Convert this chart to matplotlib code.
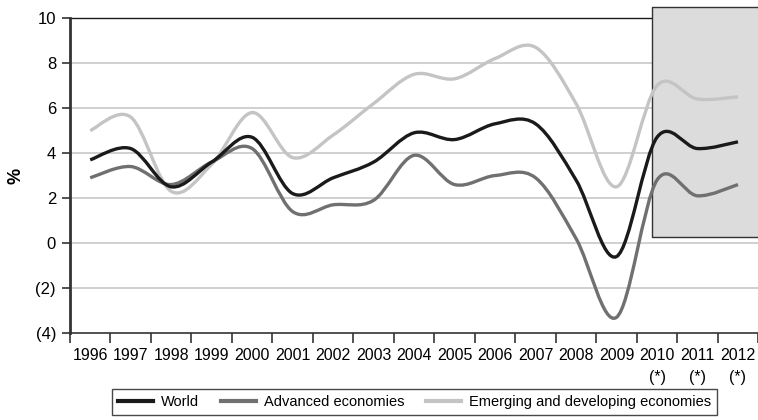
import matplotlib
matplotlib.use("Agg")
import matplotlib.pyplot as plt
from matplotlib.path import Path
from matplotlib.patches import PathPatch, Rectangle
from matplotlib.lines import Line2D
import numpy as np

plt.rcParams['font.family'] = ['Liberation Sans', 'DejaVu Sans']

years = ['1996', '1997', '1998', '1999', '2000', '2001', '2002', '2003', '2004',
         '2005', '2006', '2007', '2008', '2009', '2010\n(*)', '2011\n(*)', '2012\n(*)']
world = [3.7, 4.2, 2.5, 3.6, 4.7, 2.2, 2.9, 3.6, 4.9, 4.6, 5.3, 5.3, 2.8, -0.6, 4.7, 4.2, 4.5]
advanced = [2.9, 3.4, 2.6, 3.6, 4.2, 1.4, 1.7, 1.9, 3.9, 2.6, 3.0, 2.9, 0.2, -3.3, 2.8, 2.1, 2.6]
emerging = [5.0, 5.6, 2.3, 3.5, 5.8, 3.8, 4.8, 6.2, 7.5, 7.3, 8.2, 8.7, 6.2, 2.5, 7.0, 6.4, 6.5]

labels = ['World', 'Advanced economies', 'Emerging and developing economies']
colors = ['#1a1a1a', '#707070', '#c4c4c4']
yticks = [10, 8, 6, 4, 2, 0, -2, -4]
ylabels = ['10', '8', '6', '4', '2', '0', '(2)', '(4)']


def smooth_path(xs, ys):
    # Bezier segments in the style of a spreadsheet "smoothed line"
    pts = np.column_stack([xs, ys])
    n = len(pts)
    verts = [pts[0]]
    codes = [Path.MOVETO]
    for i in range(n - 1):
        p0 = pts[max(i - 1, 0)]
        p1 = pts[i]
        p2 = pts[i + 1]
        p3 = pts[min(i + 2, n - 1)]
        verts += [p1 + (p2 - p0) / 6.0, p2 - (p3 - p1) / 6.0, p2]
        codes += [Path.CURVE4] * 3
    return Path(verts, codes)


fig = plt.figure(figsize=(7.58, 4.2), dpi=100)
ax = fig.add_axes([0.0923, 0.207, 0.908, 0.75])

x = np.arange(len(years))
ax.set_xlim(-0.5, len(years) - 0.5)
ax.set_ylim(-4, 10)

for v in yticks[1:-1]:
    ax.axhline(v, color='#c8c8c8', lw=1.2, zorder=1)
ax.axhline(10, color='#1a1a1a', lw=1.0, zorder=1, clip_on=False)

# forecast box (open on the right, runs off the figure)
bx0, by0, by1, bx1 = 13.88, 0.27, 10.49, 18.0
ax.add_patch(Rectangle((bx0, by0), bx1 - bx0, by1 - by0, facecolor='#dcdcdc',
                       edgecolor='none', zorder=2, clip_on=False))
ax.plot([bx1, bx0, bx0, bx1], [by1, by1, by0, by0], color='#333333', lw=1.0,
        zorder=2, clip_on=False)

for ys, c in zip([emerging, advanced, world], colors[::-1]):
    ax.add_patch(PathPatch(smooth_path(x, ys), facecolor='none', edgecolor=c,
                           lw=2.4, capstyle='butt', zorder=3))

ax.set_yticks(yticks)
ax.set_yticklabels(ylabels, fontsize=12)
ax.set_xticks(x)
ax.set_xticklabels(years, fontsize=11.5, linespacing=1.55)
ax.set_xticks(np.arange(-0.5, len(years)), minor=True)
ax.tick_params(axis='x', which='major', length=0, pad=11)
ax.tick_params(axis='x', which='minor', length=7, width=1.2, color='#333333')
ax.tick_params(axis='y', length=6, width=1.2, color='#333333', pad=4)

for s in ['top', 'right']:
    ax.spines[s].set_visible(False)
ax.spines['left'].set_color('#333333')
ax.spines['left'].set_linewidth(2)
ax.spines['bottom'].set_color('#333333')
ax.spines['bottom'].set_linewidth(1.2)

ax.set_ylabel('%', fontsize=13, fontweight='bold', labelpad=8)

handles = [Line2D([], [], color=c, lw=3) for c in colors]
leg = fig.legend(handles, labels, loc='upper center', bbox_to_anchor=(0.547, 0.074),
                 ncol=3, frameon=True, fancybox=False, edgecolor='#1a1a1a',
                 fontsize=10.5, handlelength=2.4, columnspacing=1.5,
                 borderpad=0.4, handletextpad=0.55, borderaxespad=0)
leg.get_frame().set_linewidth(1.0)

fig.savefig('out.png', dpi=100)
